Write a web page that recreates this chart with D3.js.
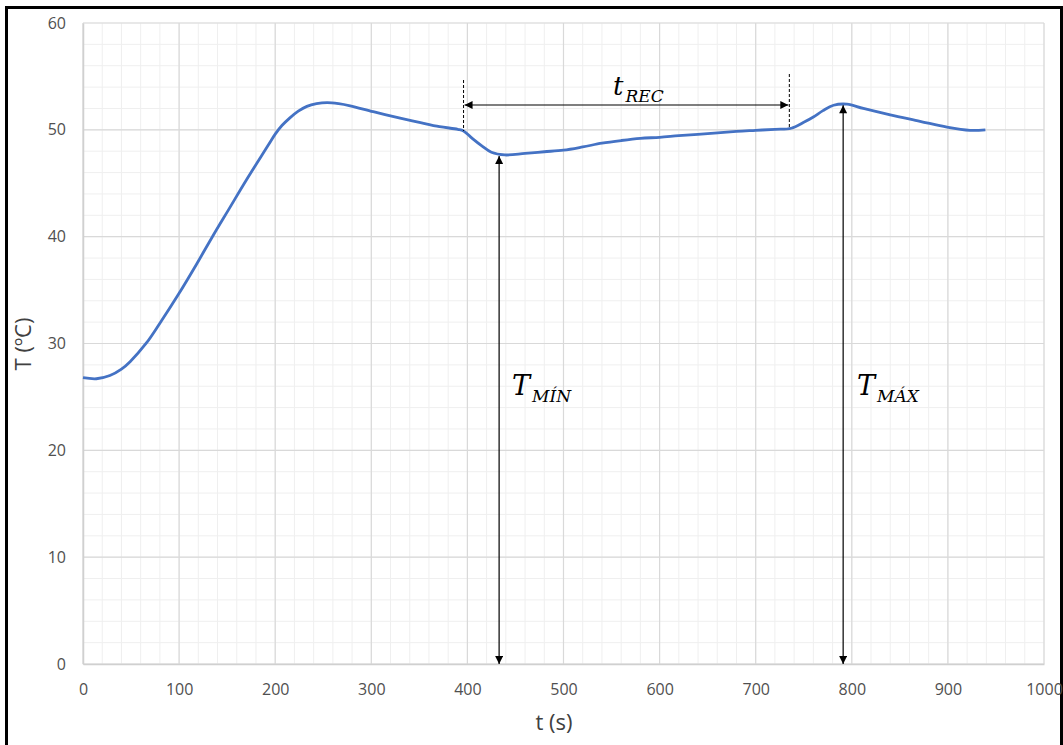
<!DOCTYPE html>
<html>
<head>
<meta charset="utf-8">
<script src="https://cdn.jsdelivr.net/npm/d3@7"></script>
<style>
  html, body { margin: 0; padding: 0; background: #fff; }
  svg { display: block; }
</style>
</head>
<body>
<svg id="chart" width="1063" height="745"></svg>
<script>
// Temperature record of the heating run
const timeS = [0, 14, 28, 40, 49, 66, 80, 100, 118, 136, 152, 170, 185, 193, 200, 207, 215, 224, 233, 243, 254, 266, 278, 302, 330, 350, 371, 390, 396,
  405, 415, 425, 439, 460, 480, 500, 520, 540, 560, 580, 600, 620, 650, 680, 700, 720, 737,
  750, 760, 770, 781, 795, 812, 840, 871, 899, 923, 939];
const tempC = [26.8, 26.7, 27.0, 27.6, 28.3, 30.05, 31.9, 34.7, 37.4, 40.2, 42.6, 45.3, 47.45, 48.6, 49.6, 50.4, 51.1, 51.75, 52.2, 52.45, 52.55, 52.45, 52.25, 51.7, 51.1, 50.7, 50.3, 50.05, 49.9,
  49.2, 48.5, 47.9, 47.65, 47.8, 47.95, 48.1, 48.4, 48.75, 49.0, 49.2, 49.3, 49.45, 49.65, 49.85, 49.95, 50.05, 50.15,
  50.7, 51.2, 51.8, 52.3, 52.4, 52.0, 51.4, 50.8, 50.25, 49.95, 50.0];

// Axis ticks
const xTicks = [0, 100, 200, 300, 400, 500, 600, 700, 800, 900, 1000];
const yTicks = [0, 10, 20, 30, 40, 50, 60];

// Annotation values: recovery interval and the extreme temperatures
const recStart = 396, recEnd = 735;
const tMin = { t: 433, T: 47.65 };
const tMax = { t: 791, T: 52.4 };

const svg = d3.select("#chart");
const W = 1063, H = 745;
const m = { left: 83, right: 1044, top: 23, bottom: 664 };

const x = d3.scaleLinear().domain([0, 1000]).range([m.left, m.right]);
const y = d3.scaleLinear().domain([0, 60]).range([m.bottom, m.top]);

// Outer frame
svg.append("rect")
  .attr("x", 6.5).attr("y", 7.5)
  .attr("width", W - 8).attr("height", H + 10)
  .attr("fill", "none").attr("stroke", "#000").attr("stroke-width", 3);

// Minor grid
const g = svg.append("g");
g.selectAll(".vminor").data(d3.range(0, 1001, 20)).join("line")
  .attr("x1", d => x(d)).attr("x2", d => x(d))
  .attr("y1", y(0)).attr("y2", y(60))
  .attr("stroke", "#efefef").attr("stroke-width", 1);
g.selectAll(".hminor").data(d3.range(0, 61, 2)).join("line")
  .attr("x1", x(0)).attr("x2", x(1000))
  .attr("y1", d => y(d)).attr("y2", d => y(d))
  .attr("stroke", "#efefef").attr("stroke-width", 1);

// Major grid
g.selectAll(".vmajor").data(xTicks).join("line")
  .attr("x1", d => x(d)).attr("x2", d => x(d))
  .attr("y1", y(0)).attr("y2", y(60))
  .attr("stroke", "#d9d9d9").attr("stroke-width", 1.2);
g.selectAll(".hmajor").data(yTicks).join("line")
  .attr("x1", x(0)).attr("x2", x(1000))
  .attr("y1", d => y(d)).attr("y2", d => y(d))
  .attr("stroke", "#d9d9d9").attr("stroke-width", 1.2);

// Axes (tick labels only; lines come from the grid)
const font = "'Open Sans', 'Noto Sans', sans-serif";
const xAxis = svg.append("g")
  .attr("transform", `translate(0,${m.bottom})`)
  .call(d3.axisBottom(x).tickValues(xTicks).tickFormat(d3.format("d")).tickSize(0).tickPadding(20));
const yAxis = svg.append("g")
  .attr("transform", `translate(${m.left},0)`)
  .call(d3.axisLeft(y).tickValues(yTicks).tickFormat(d3.format("d")).tickSize(0).tickPadding(17));
[xAxis, yAxis].forEach(a => {
  a.select(".domain").attr("stroke", "#d0d0d0").attr("stroke-width", 1.5);
  a.selectAll("text").attr("font-family", font).attr("font-size", 16).attr("fill", "#505050");
});

// Axis titles
svg.append("text")
  .attr("x", 554).attr("y", 730)
  .attr("text-anchor", "middle")
  .attr("font-family", font).attr("font-size", 22).attr("fill", "#404040")
  .text("t (s)");
svg.append("text")
  .attr("transform", `translate(31,344) rotate(-90)`)
  .attr("text-anchor", "middle")
  .attr("font-family", font).attr("font-size", 22).attr("fill", "#404040")
  .text("T (ºC)");

// Temperature curve
const line = d3.line().x((d, i) => x(timeS[i])).y(d => y(d)).curve(d3.curveCatmullRom.alpha(0.5));
svg.append("path")
  .datum(tempC)
  .attr("d", line)
  .attr("fill", "none")
  .attr("stroke", "#4472C4")
  .attr("stroke-width", 2.8)
  .attr("stroke-linejoin", "round");

// Arrowheads
const defs = svg.append("defs");
defs.append("marker")
  .attr("id", "arrow")
  .attr("viewBox", "0 0 10 10")
  .attr("refX", 10).attr("refY", 5)
  .attr("markerWidth", 9).attr("markerHeight", 8)
  .attr("markerUnits", "userSpaceOnUse")
  .attr("orient", "auto-start-reverse")
  .append("path").attr("d", "M0,0 L10,5 L0,10 Z").attr("fill", "#000");

const ann = svg.append("g");

// Dashed bounds of the recovery interval
ann.append("line")
  .attr("x1", x(recStart)).attr("x2", x(recStart))
  .attr("y1", 80).attr("y2", y(49.9))
  .attr("stroke", "#000").attr("stroke-width", 1).attr("stroke-dasharray", "3,2");
ann.append("line")
  .attr("x1", x(recEnd)).attr("x2", x(recEnd))
  .attr("y1", 74).attr("y2", y(50.15))
  .attr("stroke", "#000").attr("stroke-width", 1).attr("stroke-dasharray", "3,2");

// Recovery-time double arrow
ann.append("line")
  .attr("x1", x(recStart) + 1).attr("x2", x(recEnd) - 1)
  .attr("y1", 105).attr("y2", 105)
  .attr("stroke", "#000").attr("stroke-width", 1.2)
  .attr("marker-start", "url(#arrow)").attr("marker-end", "url(#arrow)");

// Vertical arrows for minimum and maximum temperatures
[tMin, tMax].forEach(p => {
  ann.append("line")
    .attr("x1", x(p.t)).attr("x2", x(p.t))
    .attr("y1", y(p.T) + 1).attr("y2", y(0))
    .attr("stroke", "#000").attr("stroke-width", 1.2)
    .attr("marker-start", "url(#arrow)").attr("marker-end", "url(#arrow)");
});

// Math-style labels
const serif = "'DejaVu Serif', 'Liberation Serif', serif";
function mathLabel(xp, yp, main, sub, mainSize, subSize) {
  const t = ann.append("text")
    .attr("x", xp).attr("y", yp)
    .attr("font-family", serif).attr("font-style", "italic")
    .attr("fill", "#000");
  t.append("tspan").attr("font-size", mainSize).text(main);
  t.append("tspan").attr("font-size", subSize).attr("dy", 7).attr("dx", 2).text(sub);
}
mathLabel(613, 95, "t", "REC", 26, 17);
mathLabel(512, 395, "T", "MÍN", 27, 17);
mathLabel(857, 395, "T", "MÁX", 27, 17);
</script>
</body>
</html>
